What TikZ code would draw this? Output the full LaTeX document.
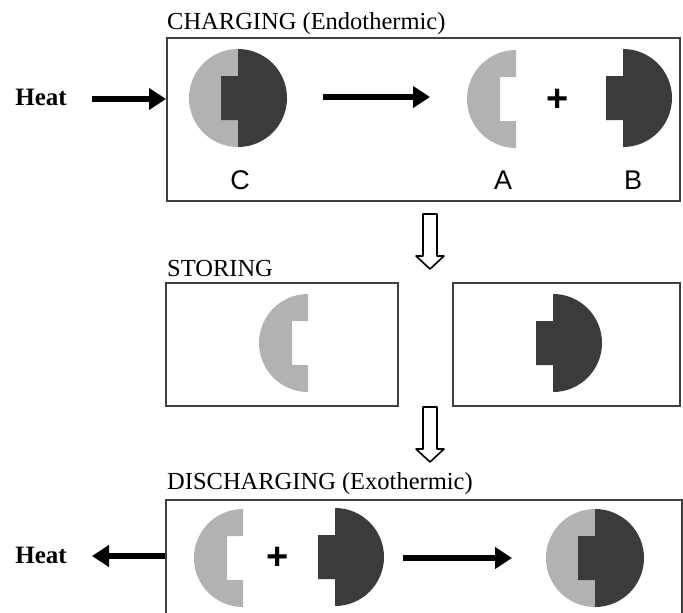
\documentclass[tikz,border=0pt]{standalone}
\usepackage{fontspec}
\setmainfont{Liberation Serif}
\newfontfamily\labelsans{Liberation Sans}
\usetikzlibrary{arrows.meta}

\definecolor{lightgrey}{gray}{0.70}
\definecolor{darkgrey}{gray}{0.23}
\definecolor{boxgrey}{gray}{0.25}

\tikzset{
  box/.style = {draw=boxgrey, line width=2pt, rectangle, inner sep=0pt},
  title/.style = {anchor=base west, inner sep=0pt, font=\fontsize{24.5}{28}\selectfont},
  heat/.style = {anchor=base, inner sep=0pt, font=\bfseries\fontsize{25}{28}\selectfont},
  tag/.style = {inner sep=0pt, font=\labelsans\fontsize{27}{30}\selectfont},
  plus/.style = {inner sep=0pt, font=\labelsans\bfseries\fontsize{38}{38}\selectfont},
  react/.style = {line width=6pt, -{Triangle[length=17pt,width=21pt]}},
  hollow/.style = {draw=black, line width=1.6pt, fill=white, line join=round},
  partA/.pic = {\fill[lightgrey] (0,-49) arc[start angle=270, end angle=90, radius=49]
      -- (0,22) -- (-16,22) -- (-16,-22) -- (0,-22) -- cycle;},
  partB/.pic = {\fill[darkgrey] (0,-49) arc[start angle=270, end angle=450, radius=49]
      -- (0,22) -- (-17,22) -- (-17,-22) -- (0,-22) -- cycle;},
  whole/.pic = {\pic {partA}; \pic {partB};},
  down/.pic = {\path[hollow] (-7,0) -- (-7,42) -- (-14,42) -- (0,55) -- (14,42) -- (7,42) -- (7,0) -- cycle;}
}

\begin{document}
\begin{tikzpicture}[x=1pt, y=-1pt]
    \useasboundingbox (0,0) rectangle (683,613);

    % charging
    \node[title] (t1) at (167,29) {CHARGING (Endothermic)};
    \node[box, minimum width=513pt, minimum height=163pt] (charge) at (423.5,119.5) {};
    \node[heat] (heat1) at (41,105) {Heat};
    \coordinate (h1) at (92,99);
    \draw[react] (h1) -- (h1 -| charge.west);
    \pic at (238,98) {whole};
    \coordinate (r1) at (323,97);
    \coordinate (r2) at (430,97);
    \draw[react] (r1) -- (r2);
    \pic at (516,99) {partA};
    \node[plus] (p1) at (558,100) {+};
    \pic at (623,98) {partB};
    \node[tag] (c1) at (240,180) {C};
    \node[tag] (a1) at (503,180) {A};
    \node[tag] (b1) at (633,180) {B};

    \pic at (430,214) {down};

    % storing
    \node[title] (t2) at (167,276) {STORING};
    \node[box, minimum width=232pt, minimum height=123pt] (storeA) at (282,344.5) {};
    \node[box, minimum width=227pt, minimum height=123pt] (storeB) at (566.5,344.5) {};
    \pic at (308,343) {partA};
    \pic at (553,343) {partB};

    \pic at (430,407) {down};

    % discharging
    \node[title] (t3) at (167,489) {DISCHARGING (Exothermic)};
    \node[box, minimum width=516pt, minimum height=140pt] (discharge) at (424,570) {};
    \node[heat] (heat2) at (41,563) {Heat};
    \coordinate (h2) at (92,556);
    \draw[react] (h2 -| discharge.west) -- (h2);
    \pic at (243,558) {partA};
    \node[plus] (p2) at (278,558) {+};
    \pic at (335,557) {partB};
    \coordinate (r3) at (403,558);
    \coordinate (r4) at (512,558);
    \draw[react] (r3) -- (r4);
    \pic at (595,558) {whole};
\end{tikzpicture}
\end{document}
